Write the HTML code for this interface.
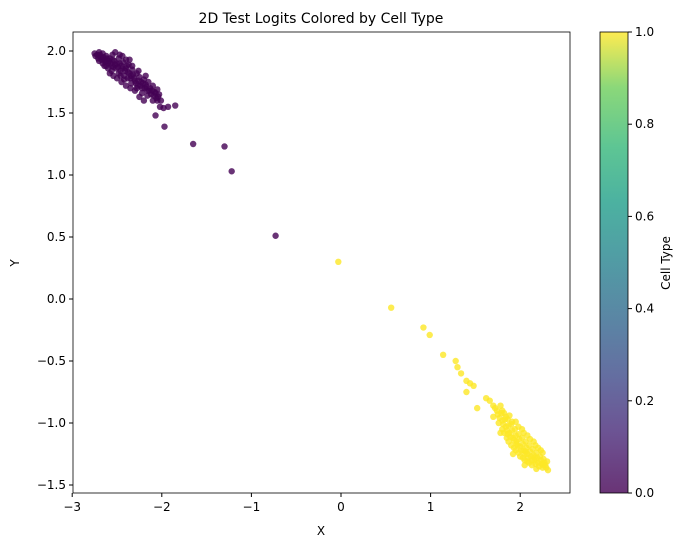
<!DOCTYPE html>
<html><head><meta charset="utf-8"><style>
body{margin:0;background:#fff;font-family:"Liberation Sans","DejaVu Sans",sans-serif}
svg text{font-family:"DejaVu Sans","Liberation Sans",sans-serif;font-size:12px;fill:#000}
</style></head><body>
<svg id="chart" width="683" height="545">
<defs><linearGradient id="vir" x1="0" y1="1" x2="0" y2="0">
<stop offset="0" stop-color="#440154"/><stop offset="0.13" stop-color="#482878"/><stop offset="0.25" stop-color="#3e4989"/><stop offset="0.38" stop-color="#31688e"/><stop offset="0.5" stop-color="#26828e"/><stop offset="0.63" stop-color="#1f9e89"/><stop offset="0.75" stop-color="#35b779"/><stop offset="0.88" stop-color="#6ece58"/><stop offset="1" stop-color="#fde725"/></linearGradient></defs>
<text x="321" y="23" text-anchor="middle" style="font-size:14px">2D Test Logits Colored by Cell Type</text>
<rect x="73" y="32" width="497" height="461" fill="none" stroke="#000" stroke-width="0.8"/>
<g id="xt"></g><g id="yt"></g><g id="pts"></g>
<text x="321" y="535" text-anchor="middle">X</text>
<text x="0" y="0" transform="translate(19,263) rotate(-90)" text-anchor="middle">Y</text>
<rect x="600" y="32" width="28" height="461" fill="url(#vir)" opacity="0.8"/>
<rect x="600" y="32" width="28" height="461" fill="none" stroke="#000" stroke-width="0.8"/>
<g id="ct"></g>
<text x="0" y="0" transform="translate(670,263) rotate(-90)" text-anchor="middle">Cell Type</text>
</svg>
<script>
const xTicks=[-3,-2,-1,0,1,2];
const yTicks=[-1.5,-1.0,-0.5,0.0,0.5,1.0,1.5,2.0];
const cTicks=[0.0,0.2,0.4,0.6,0.8,1.0];
const purpleX=[-2.75,-2.72,-2.70,-2.68,-2.66,-2.64,-2.62,-2.60,-2.58,-2.56,-2.55,-2.53,-2.51,-2.50,-2.48,-2.46,-2.45,-2.43,-2.42,-2.40,-2.38,-2.37,-2.35,-2.33,-2.32,-2.30,-2.28,-2.27,-2.25,-2.23,-2.22,-2.20,-2.18,-2.16,-2.15,-2.13,-2.12,-2.10,-2.08,-2.06,-2.05,-2.03,-2.01,-2.62,-2.58,-2.50,-2.45,-2.40,-2.35,-2.30,-2.25,-2.20,-2.52,-2.44,-2.36,-2.70,-2.66,-0.73,-1.22,-1.30,-1.65,-1.97,-2.07,-1.93,-1.85,-1.98,-2.02,-2.05,
-2.74,-2.71,-2.69,-2.67,-2.65,-2.63,-2.61,-2.59,-2.57,-2.55,-2.54,-2.52,-2.49,-2.47,-2.46,-2.44,-2.41,-2.39,-2.38,-2.36,-2.34,-2.31,-2.29,-2.26,-2.24,-2.21,-2.19,-2.17,-2.14,-2.11,-2.09,-2.07,-2.04,-2.60,-2.56,-2.48,-2.42,-2.34,-2.28,-2.22,-2.16,-2.10,-2.64,-2.54,-2.47,-2.40,-2.33,-2.26,-2.18];
const purpleY=[1.98,1.97,1.99,1.95,1.98,1.93,1.96,1.90,1.94,1.88,1.97,1.92,1.86,1.90,1.94,1.84,1.88,1.91,1.80,1.86,1.83,1.89,1.78,1.85,1.81,1.76,1.82,1.72,1.79,1.75,1.70,1.77,1.73,1.68,1.75,1.70,1.65,1.72,1.67,1.62,1.69,1.65,1.60,1.88,1.82,1.78,1.75,1.72,1.70,1.68,1.63,1.60,1.99,1.96,1.93,1.92,1.90,0.51,1.03,1.23,1.25,1.39,1.48,1.55,1.56,1.54,1.55,1.60,
1.96,1.94,1.97,1.93,1.95,1.91,1.94,1.92,1.90,1.93,1.87,1.89,1.87,1.90,1.80,1.86,1.84,1.88,1.78,1.82,1.80,1.78,1.74,1.76,1.72,1.74,1.70,1.71,1.68,1.68,1.64,1.66,1.63,1.86,1.84,1.82,1.77,1.74,1.70,1.66,1.64,1.60,1.88,1.80,1.97,1.93,1.88,1.84,1.80];
const yellowX=[1.72,1.75,1.78,1.80,1.82,1.84,1.86,1.88,1.90,1.92,1.94,1.96,1.98,2.00,2.02,2.04,2.06,2.08,2.10,2.12,2.14,2.16,2.18,2.20,2.22,2.24,2.26,2.28,2.30,2.31,1.76,1.80,1.85,1.90,1.95,2.00,2.05,2.10,1.80,1.88,1.95,2.02,2.08,2.15,2.20,1.70,1.78,1.92,2.05,2.18,2.25,-0.03,0.56,0.92,0.99,1.14,1.28,1.30,1.34,1.40,1.44,1.48,1.40,1.52,1.62,1.66,1.70,
1.74,1.77,1.79,1.81,1.83,1.85,1.87,1.89,1.91,1.93,1.95,1.97,1.99,2.01,2.03,2.05,2.07,2.09,2.11,2.13,2.15,2.17,2.19,2.21,2.23,2.25,2.27,2.29,1.82,1.87,1.93,1.98,2.03,2.08,2.13,1.84,1.91,1.98,2.04,2.11,2.17,2.23,1.86,1.96,2.06,2.16,2.26];
const yellowY=[-0.88,-0.93,-0.86,-0.98,-0.92,-1.03,-0.97,-1.08,-1.01,-1.12,-1.05,-1.15,-1.09,-1.19,-1.12,-1.22,-1.15,-1.25,-1.18,-1.27,-1.21,-1.30,-1.24,-1.32,-1.27,-1.33,-1.29,-1.34,-1.31,-1.38,-1.00,-1.05,-1.12,-1.18,-1.22,-1.27,-1.30,-1.32,-0.90,-0.94,-0.99,-1.05,-1.10,-1.15,-1.20,-0.95,-1.08,-1.25,-1.34,-1.37,-1.24,0.30,-0.07,-0.23,-0.29,-0.45,-0.50,-0.55,-0.60,-0.66,-0.68,-0.70,-0.75,-0.88,-0.80,-0.82,-0.86,
-0.90,-0.96,-0.92,-1.01,-0.97,-1.06,-1.02,-1.11,-1.06,-1.14,-1.10,-1.18,-1.13,-1.22,-1.17,-1.25,-1.20,-1.28,-1.23,-1.30,-1.26,-1.33,-1.28,-1.35,-1.30,-1.36,-1.32,-1.36,-1.08,-1.15,-1.20,-1.24,-1.28,-1.31,-1.34,-0.95,-0.99,-1.03,-1.08,-1.13,-1.18,-1.22,-1.09,-1.17,-1.23,-1.28,-1.34];
const NS="http://www.w3.org/2000/svg";
const sx=v=>341+v*89.6, sy=v=>299-v*124, sc=v=>493-v*461;
function mk(t,a,p){const e=document.createElementNS(NS,t);for(const k in a)e.setAttribute(k,a[k]);p.appendChild(e);return e;}
const xt=document.getElementById('xt'),yt=document.getElementById('yt'),ct=document.getElementById('ct'),pts=document.getElementById('pts');
xTicks.forEach(v=>{const x=sx(v);mk('line',{x1:x,x2:x,y1:493,y2:497,stroke:'#000'},xt);
const t=mk('text',{x:x,y:511,'text-anchor':'middle'},xt);t.textContent=String(v).replace('-','−');

});
yTicks.forEach(v=>{const y=sy(v);mk('line',{x1:69,x2:73,y1:y,y2:y,stroke:'#000'},yt);
const t=mk('text',{x:66,y:y+4,'text-anchor':'end'},yt);t.textContent=v.toFixed(1).replace('-','−');

});
cTicks.forEach(v=>{const y=sc(v);mk('line',{x1:628,x2:632,y1:y,y2:y,stroke:'#000'},ct);
const t=mk('text',{x:635,y:y+4},ct);t.textContent=v.toFixed(1);

});
function draw(X,Y,col,name){X.forEach((v,i)=>{const c=mk('circle',{cx:sx(v),cy:sy(Y[i]),r:3.2,fill:col,'fill-opacity':0.8},pts);

});}
draw(purpleX,purpleY,'#440154','point-type-0');
draw(yellowX,yellowY,'#fde725','point-type-1');
</script>
</body></html>
